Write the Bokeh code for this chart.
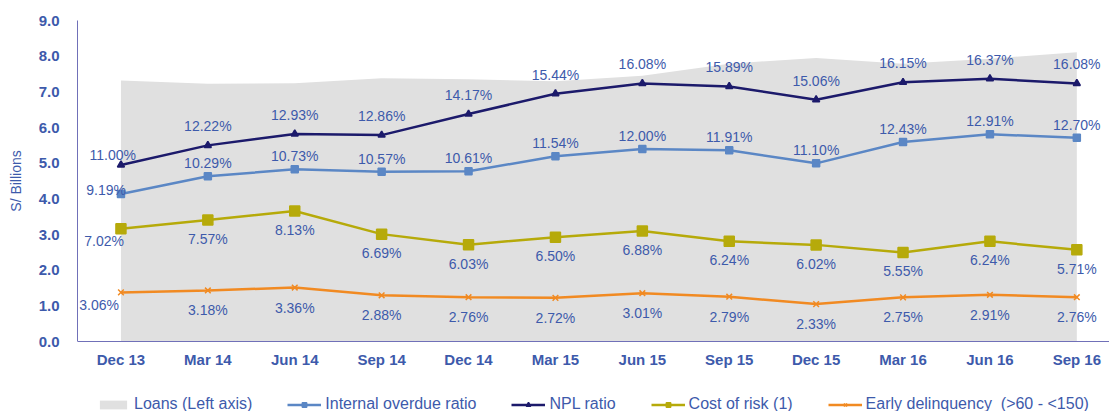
from bokeh.plotting import figure
from bokeh.models import (Range1d, FixedTicker, Legend, LegendItem, ColumnDataSource,
                          PrintfTickFormatter)
from bokeh.core.properties import value
from bokeh.embed import file_html
from bokeh.resources import INLINE

quarters = ["Dec 13", "Mar 14", "Jun 14", "Sep 14", "Dec 14", "Mar 15",
            "Jun 15", "Sep 15", "Dec 15", "Mar 16", "Jun 16", "Sep 16"]
loans = [7.32, 7.23, 7.24, 7.38, 7.35, 7.30, 7.45, 7.79, 7.95, 7.79, 7.93, 8.11]
npl = [11.00, 12.22, 12.93, 12.86, 14.17, 15.44, 16.08, 15.89, 15.06, 16.15, 16.37, 16.08]
internal = [9.19, 10.29, 10.73, 10.57, 10.61, 11.54, 12.00, 11.91, 11.10, 12.43, 12.91, 12.70]
cost = [7.02, 7.57, 8.13, 6.69, 6.03, 6.50, 6.88, 6.24, 6.02, 5.55, 6.24, 5.71]
early = [3.06, 3.18, 3.36, 2.88, 2.76, 2.72, 3.01, 2.79, 2.33, 2.75, 2.91, 2.76]
y_ticks = [0, 1, 2, 3, 4, 5, 6, 7, 8, 9]

idx = list(range(len(quarters)))

FONT = "Liberation Sans"
TXT = "#3d5aab"
AXC = "#7070b8"

# frame: top at 20px, value 0 at 341px, frame runs to the bottom (411px)
PX_PER_UNIT = 321 / 9.0
y_lo = -70 / PX_PER_UNIT
pct_lo = y_lo * 20 / 9.0

p = figure(width=1109, height=411, output_backend="svg", toolbar_location=None,
           x_range=Range1d(-0.5, 11.376), y_range=Range1d(y_lo, 9),
           min_border_left=77, min_border_right=0, min_border_top=20,
           min_border_bottom=0, background_fill_color="white")
p.extra_y_ranges = {"pct": Range1d(pct_lo, 20)}
p.outline_line_color = None
p.xgrid.visible = False
p.ygrid.visible = False

# axes
p.xaxis.ticker = FixedTicker(ticks=idx)
p.xaxis.major_label_overrides = {i: q for i, q in zip(idx, quarters)}
p.xaxis.fixed_location = 0
p.yaxis.ticker = FixedTicker(ticks=y_ticks)
p.yaxis.formatter = PrintfTickFormatter(format="%.1f")
p.yaxis.bounds = (0, 9)
for ax in (p.xaxis[0], p.yaxis[0]):
    ax.axis_line_color = AXC
    ax.axis_line_width = 1
    ax.major_tick_line_color = None
    ax.minor_tick_line_color = None
    ax.major_label_text_font = FONT
    ax.major_label_text_font_style = "bold"
    ax.major_label_text_font_size = "15px"
    ax.major_label_text_color = TXT
p.xaxis.major_label_standoff = 3
p.yaxis.major_label_standoff = 12
# non-breaking spaces lift the title so it is centred on the 0..9 span
p.yaxis.axis_label = "\u00a0" * 18 + "S/ Billions"
p.yaxis.axis_label_text_font = FONT
p.yaxis.axis_label_text_font_style = "normal"
p.yaxis.axis_label_text_font_size = "14px"
p.yaxis.axis_label_text_color = TXT
p.yaxis.axis_label_standoff = 12

# loans area
r_area = p.varea(x=idx, y1=[0] * len(idx), y2=loans, fill_color="#e0e0e0")

series = [
    ("Internal overdue ratio", internal, "#5b87c5", "square", 7, -13, (5, -4)),
    ("NPL ratio", npl, "#1c1a6b", "triangle", 7, -19, (15, -10)),
    ("Cost of risk (1)", cost, "#b6aa0a", "square", 10, 19, (3, 12)),
    ("Early delinquency  (>60 - <150)", early, "#f18a22", "x", 8, 20, (-2, 13)),
]

items = [LegendItem(label="Loans (Left axis)", renderers=[r_area])]
label_jobs = []
for name, vals, col, mk, sz, yoff, first_off in series:
    rl = p.line(idx, vals, y_range_name="pct", line_color=col, line_width=2.5)
    rm = p.scatter(idx, vals, y_range_name="pct", marker=mk, size=sz,
                   fill_color=col, line_color=col, line_width=1.5)
    items.append(LegendItem(label=name, renderers=[rl, rm]))
    label_jobs.append((vals, yoff, first_off))

for vals, yoff, first_off in label_jobs:
    src = ColumnDataSource(dict(x=idx[1:], y=vals[1:],
                                t=["%.2f%%" % v for v in vals[1:]]))
    p.text(x="x", y="y", text="t", source=src, y_range_name="pct",
           text_align="center", text_baseline="middle", y_offset=yoff,
           text_font=value(FONT), text_font_size="14px", text_color=TXT)
    p.text(x=[idx[0]], y=[vals[0]], text=["%.2f%%" % vals[0]], y_range_name="pct",
           text_align="right", text_baseline="middle",
           x_offset=first_off[0], y_offset=first_off[1],
           text_font=value(FONT), text_font_size="14px", text_color=TXT)

legend = Legend(items=items, orientation="horizontal", location=(19, -2),
                glyph_width=34, glyph_height=11, label_standoff=4, spacing=35,
                padding=0, margin=0, border_line_color=None,
                background_fill_alpha=0, label_text_font=FONT,
                label_text_font_size="16px", label_text_color=TXT,
                label_height=16)
p.add_layout(legend, "center")

open("out.html", "w").write(file_html(p, INLINE))
